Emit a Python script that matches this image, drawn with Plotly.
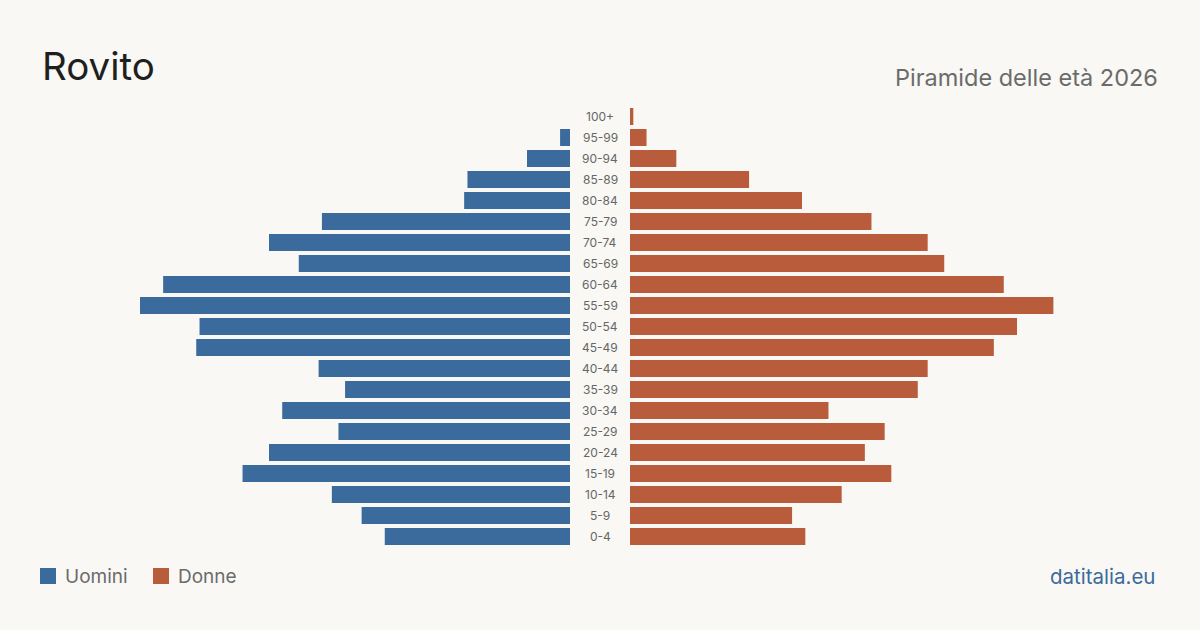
import plotly.graph_objects as go

age_groups = ["0-4", "5-9", "10-14", "15-19", "20-24", "25-29", "30-34", "35-39",
              "40-44", "45-49", "50-54", "55-59", "60-64", "65-69", "70-74",
              "75-79", "80-84", "85-89", "90-94", "95-99", "100+"]
men = [56, 63, 72, 99, 91, 70, 87, 68, 76, 113, 112, 130, 123, 82, 91, 75, 32, 31, 13, 3, 0]
women = [53, 49, 64, 79, 71, 77, 60, 87, 90, 110, 117, 128, 113, 95, 90, 73, 52, 36, 14, 5, 1]

title = "Rovito"
subtitle = "Piramide delle età 2026"
source = "datitalia.eu"
men_label = "Uomini"
women_label = "Donne"

BLUE = "#3b6a9c"
ORANGE = "#b95c3c"
BG = "#f9f8f4"
FONT = "Inter, 'Noto Sans', sans-serif"

W, H = 1200, 630
xmax = 130
top, bottom = 106, 547


def py(pix):
    # convert a pixel row in the figure to paper coordinates of the plot area
    return (bottom - pix) / (bottom - top)


fig = go.Figure()
fig.add_trace(go.Bar(y=age_groups, x=men, orientation="h", marker_color=BLUE,
                     marker_line_width=0,
                     xaxis="x", yaxis="y", showlegend=False, name=men_label))
fig.add_trace(go.Bar(y=age_groups, x=women, orientation="h", marker_color=ORANGE,
                     marker_line_width=0,
                     xaxis="x2", yaxis="y", showlegend=False, name=women_label))

for g in age_groups:
    fig.add_annotation(x=0.5, xref="paper", y=g, yref="y", text=g, showarrow=False,
                       font=dict(family=FONT, size=12, color="#666666"),
                       xanchor="center", yanchor="middle")

fig.add_annotation(x=40 / W, y=py(66), xref="paper", yref="paper", text=title,
                   showarrow=False, xanchor="left", yanchor="middle",
                   font=dict(family=FONT, size=38.5, color="#1f1f1f"))
fig.add_annotation(x=1160 / W, y=py(77), xref="paper", yref="paper", text=subtitle,
                   showarrow=False, xanchor="right", yanchor="middle",
                   font=dict(family=FONT, size=23.5, color="#6b6b6b"))
fig.add_annotation(x=1157 / W, y=py(576), xref="paper", yref="paper", text=source,
                   showarrow=False, xanchor="right", yanchor="middle",
                   font=dict(family=FONT, size=20.5, color=BLUE))

# legend
for x0, col, lab in [(40, BLUE, men_label), (153, ORANGE, women_label)]:
    fig.add_shape(type="rect", xref="paper", yref="paper",
                  x0=x0 / W, x1=(x0 + 16) / W, y0=py(584), y1=py(568),
                  fillcolor=col, line_width=0)
    fig.add_annotation(x=(x0 + 23) / W, y=py(576), xref="paper", yref="paper", text=lab,
                       showarrow=False, xanchor="left", yanchor="middle",
                       font=dict(family=FONT, size=19, color="#6b6b6b"))

fig.update_layout(
    width=W, height=H,
    paper_bgcolor=BG, plot_bgcolor=BG,
    margin=dict(l=0, r=0, t=top, b=H - bottom),
    bargap=0.19,
    xaxis=dict(domain=[140 / W, 570 / W], range=[xmax, 0], visible=False, fixedrange=True),
    xaxis2=dict(domain=[630 / W, 1060 / W], range=[0, xmax], visible=False, fixedrange=True),
    yaxis=dict(categoryorder="array", categoryarray=age_groups, visible=False,
               range=[-0.5, len(age_groups) - 0.5]),
    font=dict(family=FONT),
)

fig.write_html("out.html")
